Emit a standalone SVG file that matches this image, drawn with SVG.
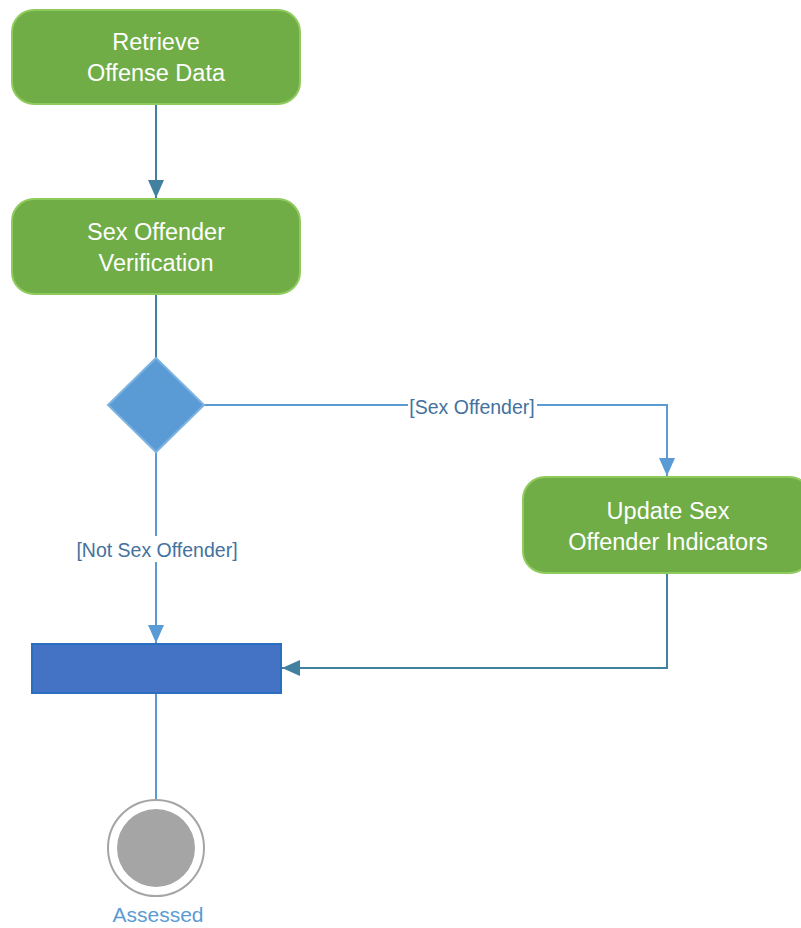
<svg xmlns="http://www.w3.org/2000/svg" width="801" height="928" viewBox="0 0 801 928">
<style>
.act{fill:#70AD47;stroke:#8FCB5C;stroke-width:2}
.at{font-family:"Liberation Sans",Arial,sans-serif;font-size:23.5px;fill:#FFFFFF;text-anchor:middle}
.lbl{font-family:"Liberation Sans",Arial,sans-serif;font-size:19.5px;fill:#44719E;text-anchor:middle}
.teal{fill:none;stroke:#41819F;stroke-width:2}
.blue{fill:none;stroke:#5B9BD5;stroke-width:2}
</style>
<defs>
<marker id="ah-teal" markerWidth="18" markerHeight="18" viewBox="0 0 18 18" refX="18" refY="9" orient="auto" markerUnits="userSpaceOnUse">
<path d="M0,1 L18,9 L0,17 Z" fill="#41819F"/>
</marker>
<marker id="ah-blue" markerWidth="18" markerHeight="18" viewBox="0 0 18 18" refX="18" refY="9" orient="auto" markerUnits="userSpaceOnUse">
<path d="M0,1 L18,9 L0,17 Z" fill="#5B9BD5"/>
</marker>
</defs>
<rect width="801" height="928" fill="#FFFFFF"/>
<g id="connectors">
<path class="teal" d="M156,104 L156,198" marker-end="url(#ah-teal)"/>
<path class="teal" d="M156,294 L156,358"/>
<path class="blue" d="M204,405 L667,405 L667,476" marker-end="url(#ah-blue)"/>
<path class="blue" d="M156,452 L156,643" marker-end="url(#ah-blue)"/>
<path class="teal" d="M667,573 L667,668 L282,668" marker-end="url(#ah-teal)"/>
<path class="blue" d="M156,693 L156,800"/>
<rect x="408" y="393" width="129" height="24" fill="#FFFFFF"/>
<text class="lbl" x="472" y="414">[Sex Offender]</text>
<rect x="74" y="536" width="166" height="26" fill="#FFFFFF"/>
<text class="lbl" x="157" y="557">[Not Sex Offender]</text>
</g>
<g id="retrieve">
<rect class="act" x="12" y="10" width="288" height="94" rx="22"/>
<text class="at" x="156" y="50">Retrieve</text>
<text class="at" x="156" y="81">Offense Data</text>
</g>
<g id="verify">
<rect class="act" x="12" y="199" width="288" height="95" rx="22"/>
<text class="at" x="156" y="240">Sex Offender</text>
<text class="at" x="156" y="271">Verification</text>
</g>
<g id="decision">
<path d="M156,358 L204,405 L156,452 L108,405 Z" fill="#5B9BD5" stroke="#7DB3E0" stroke-width="2"/>
</g>
<g id="update">
<rect class="act" x="523" y="477" width="288" height="96" rx="22"/>
<text class="at" x="668" y="519">Update Sex</text>
<text class="at" x="668" y="550">Offender Indicators</text>
</g>
<g id="join">
<rect x="32" y="644" width="249" height="49" fill="#4472C4" stroke="#2A6FBF" stroke-width="2"/>
</g>
<g id="final">
<circle cx="156" cy="848" r="48" fill="#FFFFFF" stroke="#A5A5A5" stroke-width="2"/>
<circle cx="156" cy="848" r="39" fill="#A5A5A5"/>
<text x="158" y="922" font-family="Liberation Sans,Arial,sans-serif" font-size="21" fill="#5B9BD5" text-anchor="middle">Assessed</text>
</g>
</svg>
